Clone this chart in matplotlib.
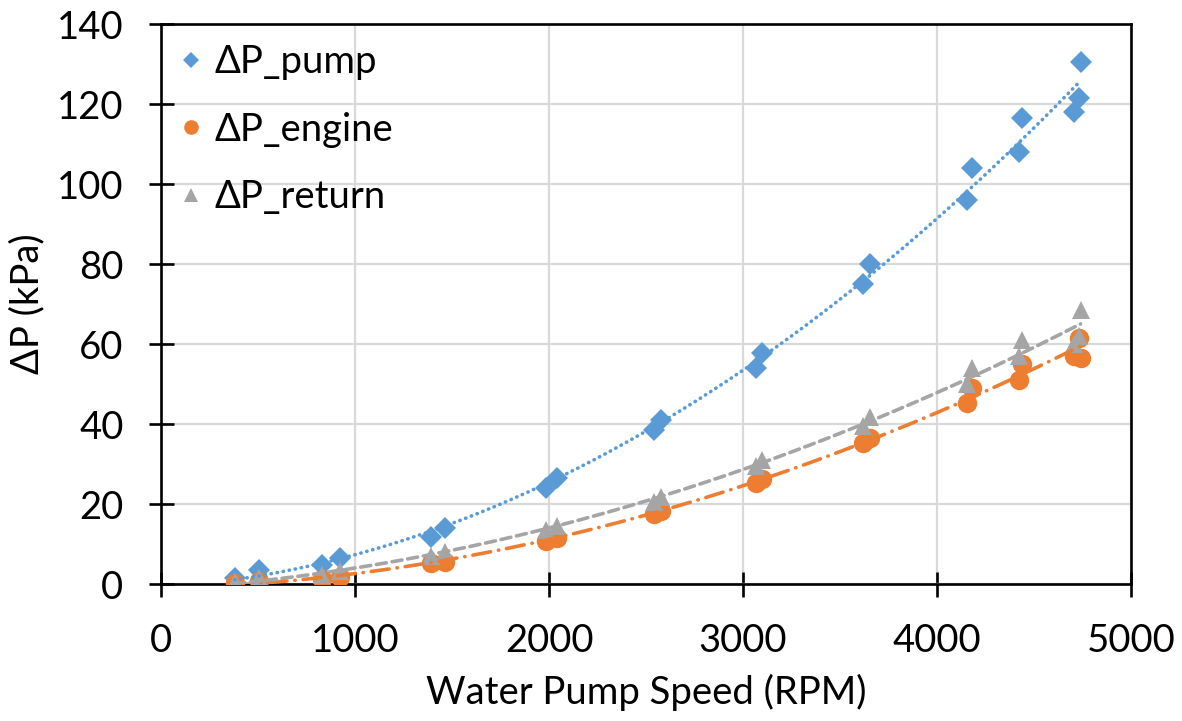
import numpy as np
import matplotlib
matplotlib.use("Agg")
import matplotlib.pyplot as plt
from matplotlib.lines import Line2D

plt.rcParams['font.family'] = ['Lato', 'DejaVu Sans']

# water pump speed for each test point (RPM)
rpm = [380, 505, 830, 925, 1390, 1465, 1985, 2040, 2540, 2575, 3065, 3100,
       3620, 3655, 4155, 4180, 4425, 4440, 4705, 4730, 4740]

# pressure drops (kPa)
dp_pump = [1.5, 3.5, 4.75, 6.5, 11.75, 14, 24, 26.5, 38.5, 41, 54, 57.75,
           75, 80, 96, 104, 108, 116.5, 118, 121.5, 130.5]
dp_engine = [0.2, 0.8, 1.2, 1.8, 5.2, 5.6, 10.8, 11.5, 17.5, 18.3, 25.3, 26.3,
             35.3, 36.5, 45.3, 49, 51, 55, 57, 61.5, 56.5]
dp_return = [0.5, 1.5, 2.2, 3.2, 7, 8, 13.5, 14.5, 20.5, 21.8, 29.5, 31,
             39.5, 41.8, 50, 54, 57, 61, 60, 62, 68.5]

labels = ["ΔP_pump", "ΔP_engine", "ΔP_return"]
colors = ["#5B9BD5", "#ED7D31", "#A5A5A5"]
markers = ["D", "o", "^"]
msizes = [11, 14, 13]
styles = [(0, (0.1, 1.6)), (0, (5, 2.2, 0.1, 2.2)), (0, (2.8, 1.6))]

FS = 27.5

fig = plt.figure(figsize=(11.82, 7.21), dpi=100)
ax = fig.add_axes([0.1362, 0.19, 0.8207, 0.7767])

x = np.array(rpm, dtype=float)
series = [dp_pump, dp_engine, dp_return]
for y, c, m, ms in zip(series, colors, markers, msizes):
    ax.plot(x, y, linestyle="none", marker=m, color=c, markersize=ms,
            markeredgewidth=0, zorder=3)

# second-order polynomial trend lines
xs = np.linspace(x.min(), x.max(), 200)
for y, c, ls in zip(series, colors, styles):
    coef = np.polyfit(x, np.array(y), 2)
    ax.plot(xs, np.polyval(coef, xs), color=c, linestyle=ls, linewidth=2.6,
            dash_capstyle="round", zorder=4)

ax.set_xlim(0, 5000)
ax.set_ylim(0, 140)
ax.set_xticks(range(0, 5001, 1000))
ax.set_yticks(range(0, 141, 20))
ax.grid(True, color="#D9D9D9", linewidth=1.6)
ax.set_axisbelow(True)
for sp in ax.spines.values():
    sp.set_linewidth(1.9)
    sp.set_color("black")
ax.tick_params(direction="inout", length=18, width=1.9, labelsize=FS)
ax.tick_params(axis="x", pad=19)
ax.tick_params(axis="y", pad=18)
ax.set_xlabel("Water Pump Speed (RPM)", fontsize=FS, labelpad=11)
ax.set_ylabel("ΔP (kPa)", fontsize=FS, labelpad=8)

handles = [Line2D([], [], linestyle="none", marker=m, color=c,
                  markersize=ms * 0.75, markeredgewidth=0)
           for m, c, ms in zip(markers, colors, msizes)]
ax.legend(handles, labels, loc="upper left", bbox_to_anchor=(-0.02, 1.025),
          frameon=False, fontsize=FS, labelspacing=0.82, handlelength=0.8,
          handletextpad=0.2)

fig.savefig("out.png", dpi=100)
